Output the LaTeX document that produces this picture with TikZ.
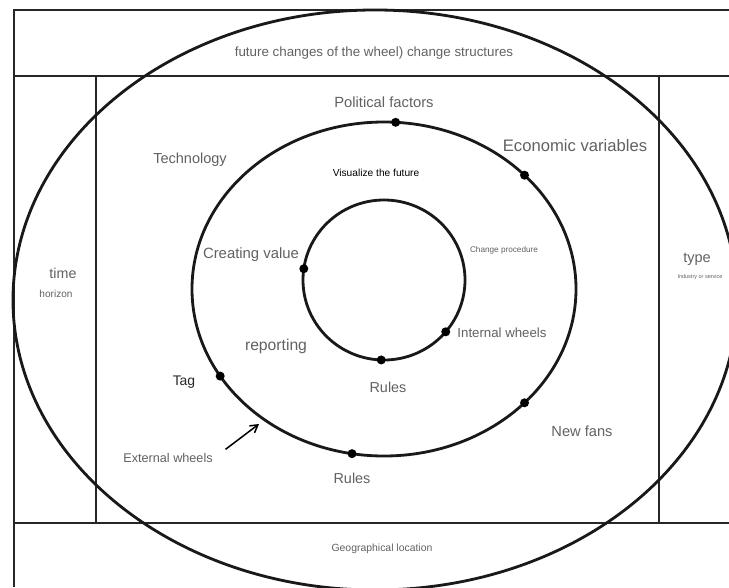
\documentclass[tikz,border=0pt]{standalone}
\usepackage{fontspec}
\setmainfont{Liberation Sans}
\usetikzlibrary{shapes.geometric,arrows.meta}
\tikzset{
  boxline/.style={draw=black!85, line width=2pt},
  divider/.style={draw=black!85, line width=1.6pt},
  wheel/.style={ellipse, draw=black!90, line width=2.4pt, inner sep=0pt, outer sep=0pt},
  pin/.style={circle, fill=black, inner sep=0pt, minimum size=2.7mm},
  lbl/.style={text=black!62, inner sep=1pt, font=\fontsize{#1}{#1}\selectfont},
  lbl/.default=12.6pt,
  ptr/.style={-{Straight Barb[length=2.2mm, width=2.6mm]}, line width=1.3pt}
}

\begin{document}
\begin{tikzpicture}[x=0.03cm, y=-0.03cm]
\useasboundingbox (0,0) rectangle (729,587);
\clip (0,0) rectangle (729,587);
% ---- frame and bands ----
\draw[boxline] (729,10) -- (14,10) -- (14,587);
\draw[boxline] (14,76) -- (729,76);
\draw[boxline] (14,523) -- (729,523);
\draw[divider] (96,76) -- (96,523);
\draw[divider] (659,76) -- (659,523);
% ---- wheels ----
\node[wheel, minimum width=21.72cm, minimum height=17.4cm] (outer) at (375,300) {};
\node[wheel, minimum width=11.52cm, minimum height=10.02cm] (ext) at (384,289) {};
\node[wheel, minimum width=4.86cm, minimum height=4.8cm] (int) at (384,280) {};
% ---- pins on the external wheel ----
\node[pin] (p-pol) at (ext.86.9) {};
\node[pin] (p-eco) at (ext.39.6) {};
\node[pin] (p-tag) at (ext.208) {};
\node[pin] (p-fans) at (ext.321.2) {};
\node[pin] (p-rout) at (ext.259.3) {};
% ---- pins on the internal wheel ----
\node[pin] (p-val) at (int.172.5) {};
\node[pin] (p-intw) at (int.320.9) {};
\node[pin] (p-rin) at (int.268.6) {};
% ---- labels ----
\node[lbl=11.4pt] (chg) at (374,53) {future changes of the wheel) change structures};
\node[lbl] (pol) at (384,102) {Political factors};
\node[lbl=12.4pt] (tech) at (190,160) {Technology};
\node[lbl=14.2pt] (eco) at (575,146) {Economic variables};
\node[lbl=8.7pt, text=black] (vis) at (376,173) {Visualize the future};
\node[lbl=7pt] (proc) at (504,250) {Change procedure};
\node[lbl=12.7pt] (val) at (251,255) {Creating value};
\node[lbl=12.2pt] (time) at (63,273) {time};
\node[lbl=8.6pt] (hor) at (56,294) {horizon};
\node[lbl=12.4pt] (type) at (697,259) {type};
\node[lbl=4.7pt] (ind) at (700,277) {Industry or service};
\node[lbl=11.3pt] (intw) at (502,333) {Internal wheels};
\node[lbl=13.4pt] (rep) at (276,346) {reporting};
\node[lbl=11.9pt, text=black!85] (tag) at (184,382) {Tag};
\node[lbl=12.3pt] (rin) at (388,387) {Rules};
\node[lbl=12.5pt] (fans) at (582,431) {New fans};
\node[lbl=10.8pt] (extw) at (168,458) {External wheels};
\node[lbl=12.3pt] (rout) at (352,478) {Rules};
\node[lbl=8.9pt] (geo) at (382,549) {Geographical location};
% ---- pointer to the external wheel ----
\coordinate (ptrtip) at (259,424);
\draw[ptr, shorten <=4.3mm] (extw.east) -- (ptrtip);
\end{tikzpicture}
\end{document}
